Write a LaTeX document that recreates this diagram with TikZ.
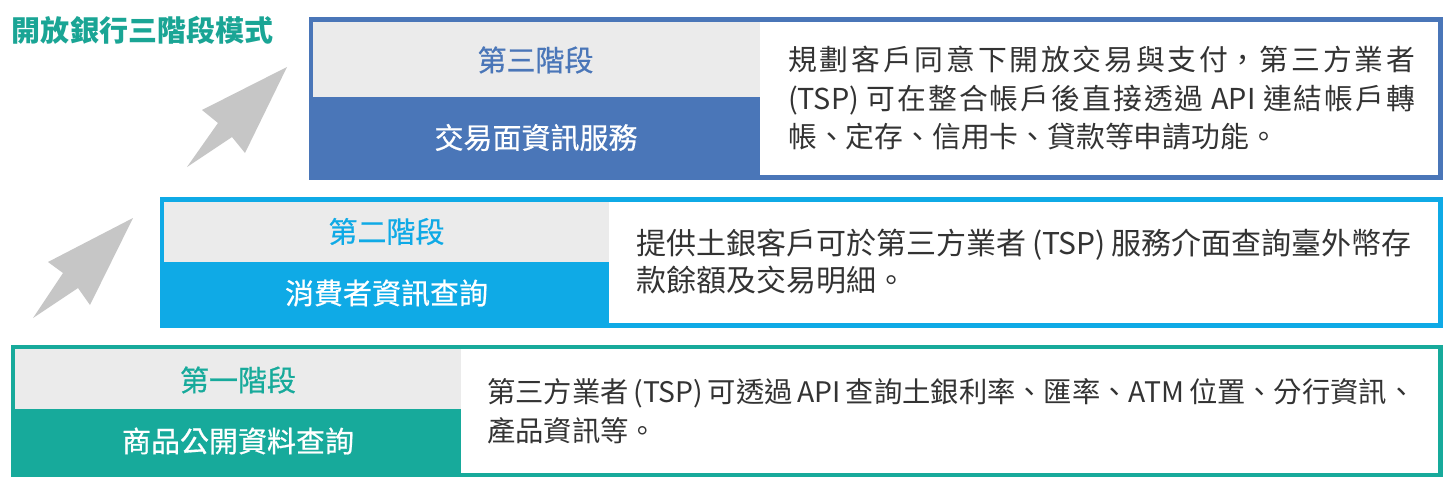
\documentclass[tikz,border=0pt]{standalone}
\usepackage{fontspec}
\setmainfont{Noto Sans CJK TC}
\newfontfamily\medfont[FakeBold=0.6]{Noto Sans CJK TC}
\XeTeXlinebreaklocale "zh"
\XeTeXlinebreakskip=0pt plus 6pt
\definecolor{cthree}{HTML}{4A76B8}
\definecolor{ctwo}{HTML}{0FAAE6}
\definecolor{cone}{HTML}{17AA9B}
\definecolor{hdr}{HTML}{EBEBEB}
\definecolor{arr}{HTML}{C6C6C6}
\definecolor{txt}{HTML}{333333}
\definecolor{ttl}{HTML}{1AA595}
\tikzset{
  blk/.style={inner sep=0pt, outer sep=0pt, draw=none, anchor=center},
  hdrtext/.style={inner sep=0pt, anchor=center, font=\medfont\fontsize{29}{31}\selectfont},
  lowtext/.style={inner sep=0pt, anchor=center, text=white, font=\medfont\fontsize{29}{31}\selectfont},
  desc/.style={inner sep=0pt, anchor=base west, text=txt},
  uparrow/.style={fill=arr, draw=none}
}
\begin{document}
\begin{tikzpicture}[x=1pt,y=-1pt]
\useasboundingbox (0,0) rectangle (1450,484);
\fill[white] (0,0) rectangle (1450,484);

% title
\node[inner sep=0pt, anchor=center, text=ttl, font=\bfseries\fontsize{29}{31}\selectfont] (title) at (142.5,30) {開放銀行三階段模式};

% arrows
\fill[uparrow] (187,167) -- (218,123) -- (202,110) -- (287,67) -- (245,153) -- (232,137) -- cycle;
\fill[uparrow] (33,318) -- (63,273) -- (48,262) -- (133,218) -- (90,305) -- (78,288) -- cycle;

% stage 3
\node[blk, fill=cthree, minimum width=1134pt, minimum height=163pt] (s3) at (876,98.5) {};
\node[blk, fill=hdr, minimum width=447pt, minimum height=75pt] (s3h) at (536.5,59.5) {};
\node[blk, fill=white, minimum width=678pt, minimum height=153pt] (s3d) at (1099,98.5) {};
\node[hdrtext, text=cthree] (s3a) at (535.5,60) {第三階段};
\node[lowtext] (s3b) at (536,137.5) {交易面資訊服務};
\node[desc, text width=627pt, align=justify, font=\fontsize{28.8}{38.5}\selectfont] (s3t) at (788,71)
  {規劃客戶同意下開放交易與支付，第三方業者\linebreak (TSP) 可在整合帳戶後直接透過 API 連結帳戶轉\linebreak 帳、定存、信用卡、貸款等申請功能。};

% stage 2
\node[blk, fill=ctwo, minimum width=1283pt, minimum height=131pt] (s2) at (801.5,262.5) {};
\node[blk, fill=hdr, minimum width=445pt, minimum height=60pt] (s2h) at (386.5,232) {};
\node[blk, fill=white, minimum width=829pt, minimum height=121pt] (s2d) at (1023.5,262.5) {};
\node[hdrtext, text=ctwo] (s2a) at (386.5,231.5) {第二階段};
\node[lowtext] (s2b) at (386.5,293) {消費者資訊查詢};
\node[desc, text width=800pt, align=left, font=\fontsize{30}{37}\selectfont] (s2t) at (636,254.5)
  {\spaceskip=0.2em 提供土銀客戶可於第三方業者 (TSP) 服務介面查詢臺外幣存\\款餘額及交易明細。};

% stage 1
\node[blk, fill=cone, minimum width=1432pt, minimum height=132pt] (s1) at (727,411) {};
\node[blk, fill=hdr, minimum width=446pt, minimum height=60pt] (s1h) at (238,379) {};
\node[blk, fill=white, minimum width=977pt, minimum height=124pt] (s1d) at (949.5,411) {};
\node[hdrtext, text=cone] (s1a) at (238,380) {第一階段};
\node[lowtext] (s1b) at (238,441) {商品公開資料查詢};
\node[desc, text width=960pt, align=left, font=\fontsize{28.3}{39}\selectfont] (s1t) at (487,402.5)
  {\spaceskip=0.17em 第三方業者 (TSP) 可透過 API 查詢土銀利率、匯率、ATM 位置、分行資訊、\\產品資訊等。};
\end{tikzpicture}
\end{document}
